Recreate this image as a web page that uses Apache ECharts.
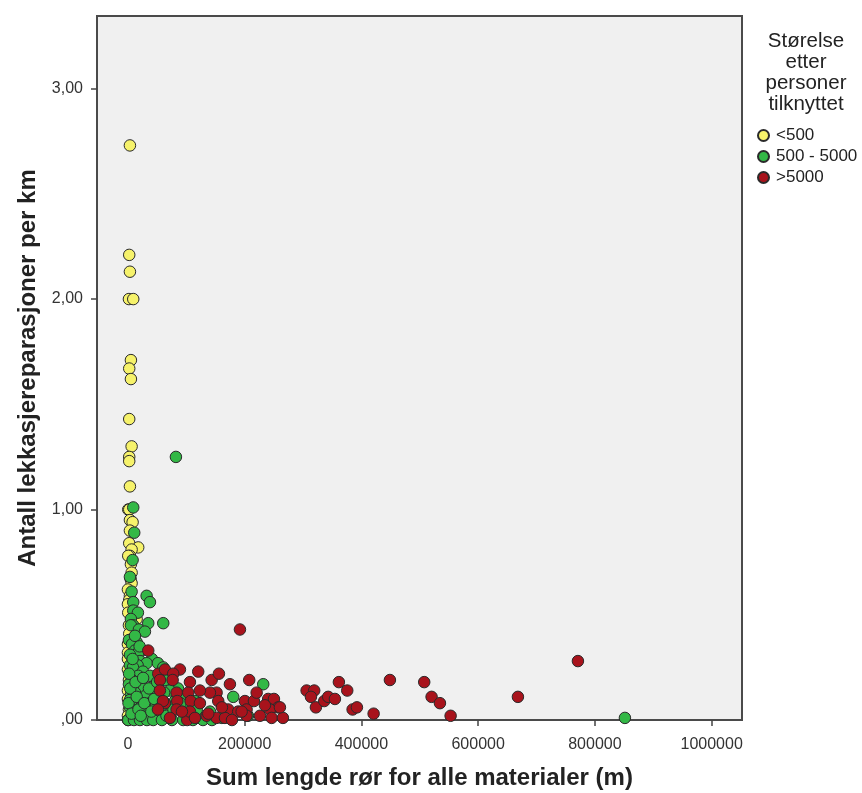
<!DOCTYPE html>
<html>
<head>
<meta charset="utf-8">
<script src="https://cdn.jsdelivr.net/npm/echarts@6/dist/echarts.min.js"></script>
<style>
html,body{margin:0;padding:0;background:#fff;}
#chart{width:862px;height:793px;}
</style>
</head>
<body>
<div id="chart"></div>
<script>
// Category names
const groupNames = ['<500', '500 - 5000', '>5000'];
const legendTitle = 'Størelse\netter\npersoner\ntilknyttet';
const xTitle = 'Sum lengde rør for alle materialer (m)';
const yTitle = 'Antall lekkasjereparasjoner per km';
const xTicks = [0, 200000, 400000, 600000, 800000, 1000000];
const yTicks = [0, 1, 2, 3];

// <500 : [sum length (m), repairs per km]
const smallData = [
  [3400,2.73],[2200,2.21],[3400,2.13],[1700,2.00],[9100,2.00],[5100,1.71],[2200,1.67],[5100,1.62],
  [2200,1.43],[6300,1.30],[2200,1.25],[2200,1.23],[3400,1.11],[500,1.00],[2200,1.00],[3400,0.95],
  [8000,0.94],[3400,0.90],[2200,0.84],[17600,0.82],[6300,0.81],[3400,0.78],[500,0.78],[5100,0.74],
  [6300,0.70],[4600,0.67],[6300,0.65],[0,0.62],[3400,0.59],[2200,0.57],[0,0.55],[500,0.51],
  [14900,0.48],[1700,0.45],[2200,0.41],[3400,0.38],[0,0.36],[0,0.32],[0,0.29],[0,0.24],
  [1700,0.19],[0,0.14],[0,0.10],[1700,0.05],[0,0.02],[0,0.00]
];
// 500 - 5000
const mediumData = [
  [82200,1.25],[9100,1.01],[10800,0.89],[8000,0.76],[3400,0.68],[6300,0.61],[32000,0.59],[37700,0.56],
  [9100,0.56],[9100,0.52],[17100,0.51],[5100,0.48],[34800,0.46],[60500,0.46],[9100,0.45],[5100,0.45],
  [18800,0.43],[29100,0.42],[14900,0.37],[1700,0.38],[6900,0.36],[12000,0.33],[24000,0.33],[17600,0.32],
  [3400,0.31],[20600,0.28],[41100,0.29],[32000,0.27],[51400,0.27],[16600,0.26],[3400,0.26],[8600,0.25],
  [60500,0.25],[25700,0.23],[17600,0.21],[37700,0.21],[6900,0.19],[63400,0.19],[23500,0.17],[1700,0.17],
  [43300,0.16],[85700,0.15],[27400,0.15],[71900,0.14],[12000,0.13],[46300,0.13],[5100,0.12],[32000,0.12],
  [99400,0.12],[54800,0.10],[3400,0.095],[14900,0.09],[80500,0.09],[114800,0.09],[37700,0.08],[24000,0.07],
  [48000,0.07],[97600,0.07],[3400,0.06],[68500,0.05],[9100,0.04],[51900,0.04],[140500,0.04],[32000,0.03],
  [106200,0.02],[54800,0.01],[71900,0.01],[123300,0.01],[161000,0.01],[205600,0.02],[500,0.00],[10300,0.00],
  [20600,0.00],[32500,0.00],[43300,0.00],[58200,0.00],[75400,0.00],[94700,0.00],[111300,0.00],[128500,0.00],
  [143900,0.00],[180400,0.11],[231800,0.17],[851400,0.01],
  [2000,0.22],[4000,0.15],[1000,0.08],[6000,0.03],[13000,0.18],[15000,0.11],[18000,0.05],[22000,0.02],
  [26000,0.20],[28000,0.08],[36000,0.15],[40000,0.04],[45000,0.10],[50000,0.18],[56000,0.06],[62000,0.13],
  [66000,0.02],[78000,0.05],[90000,0.08],[102000,0.03],[118000,0.05],[8000,0.29],[12000,0.40],[20000,0.35]
];
// >5000
const largeData = [
  [34800,0.33],[191900,0.43],[51900,0.22],[63400,0.24],[89100,0.24],[77600,0.22],[54800,0.19],[76600,0.19],
  [106200,0.18],[120400,0.23],[143400,0.19],[155900,0.22],[174700,0.17],[207800,0.19],[83400,0.13],[103300,0.13],
  [107400,0.09],[84500,0.09],[63400,0.08],[83400,0.05],[123300,0.08],[134800,0.02],[151900,0.13],[154700,0.09],
  [171800,0.05],[200400,0.09],[203300,0.05],[215800,0.09],[220500,0.13],[240300,0.10],[250100,0.10],[257500,0.06],
  [243200,0.05],[246200,0.01],[188900,0.04],[71900,0.01],[101600,0.00],[151900,0.01],[203300,0.02],[106200,0.04],
  [137600,0.03],[194800,0.04],[54800,0.14],[60000,0.09],[51400,0.05],[92500,0.04],[114800,0.01],[166200,0.01],
  [226100,0.02],[234700,0.07],[265500,0.01],[178200,0.00],[140500,0.13],[123300,0.14],[161000,0.06],
  [260400,0.06],[306100,0.14],[319100,0.14],[313500,0.11],[322000,0.06],[336300,0.09],[343100,0.11],[354600,0.10],
  [361400,0.18],[375700,0.14],[384900,0.05],[392300,0.06],[420900,0.03],[448800,0.19],[507600,0.18],[520200,0.11],
  [534500,0.08],[552800,0.02],[668100,0.11],[770900,0.28]
];

const colors = ['#F6F26B', '#33B846', '#A8131C'];
const fontFam = '"Liberation Sans", Arial, sans-serif';

const chart = echarts.init(document.getElementById('chart'), null, {renderer: 'canvas'});
function mk(name, data, color) {
  return {
    name: name, type: 'scatter', data: data, symbol: 'circle', symbolSize: 11.5,
    itemStyle: {color: color, borderColor: '#2a2a2a', borderWidth: 1, opacity: 1},
    emphasis: {disabled: true}, silent: true
  };
}
chart.setOption({
  animation: false,
  backgroundColor: '#ffffff',
  textStyle: {fontFamily: fontFam},
  title: {
    text: legendTitle, left: 801, top: 26, textAlign: 'center',
    textStyle: {fontSize: 20.5, fontWeight: 'normal', color: '#222', lineHeight: 21, fontFamily: fontFam}
  },
  legend: {
    orient: 'vertical', left: 752, top: 122, itemWidth: 11, itemHeight: 11, itemGap: 4,
    icon: 'circle', selectedMode: false,
    textStyle: {fontSize: 17, color: '#222', fontFamily: fontFam, padding: [0,0,0,2]},
    data: groupNames
  },
  grid: {
    left: 97, right: 120, top: 16, bottom: 73, show: true, containLabel: false,
    outerBoundsMode: 'none',
    backgroundColor: '#F0F0F0', borderColor: '#4a4a4a', borderWidth: 2
  },
  xAxis: {
    type: 'value', min: -53000, max: 1052000,
    name: xTitle, nameLocation: 'middle', nameGap: 46,
    nameTextStyle: {fontSize: 24, fontWeight: 'bold', color: '#222', fontFamily: fontFam},
    axisLine: {show: false, onZero: false},
    axisTick: {show: true, length: 6, inside: false, customValues: xTicks, lineStyle: {color: '#444', width: 1.5}},
    axisLabel: {customValues: xTicks, fontSize: 16, color: '#333', margin: 17, fontFamily: fontFam,
      formatter: function (v) { return String(v); }},
    splitLine: {show: false}
  },
  yAxis: {
    type: 'value', min: 0, max: 3.345,
    name: yTitle, nameLocation: 'middle', nameGap: 57,
    nameTextStyle: {fontSize: 24, fontWeight: 'bold', color: '#222', fontFamily: fontFam},
    axisLine: {show: false, onZero: false},
    axisTick: {show: true, length: 6, customValues: yTicks, lineStyle: {color: '#444', width: 1.5}},
    axisLabel: {
      customValues: yTicks, fontSize: 16, color: '#333', margin: 14, fontFamily: fontFam,
      formatter: function (v) { return v === 0 ? ',00' : v.toFixed(2).replace('.', ','); }
    },
    splitLine: {show: false}
  },
  series: [
    mk(groupNames[0], smallData, colors[0]),
    mk(groupNames[1], mediumData, colors[1]),
    mk(groupNames[2], largeData, colors[2])
  ]
});
</script>
</body>
</html>
